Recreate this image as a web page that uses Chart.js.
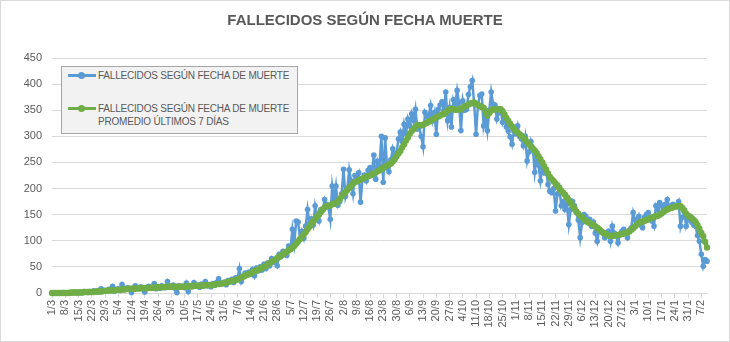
<!DOCTYPE html>
<html>
<head>
<meta charset="utf-8">
<script src="https://cdn.jsdelivr.net/npm/chart.js@4.4.1/dist/chart.umd.min.js"></script>
<style>
    html, body { margin: 0; padding: 0; background: #fff; }
    #wrap { position: relative; width: 730px; height: 342px; }
    #frame { position: absolute; left: 0; top: 0; width: 728px; height: 340px; border: 1px solid #d9d9d9; pointer-events: none; }
    #title { position: absolute; left: 0; top: 10px; width: 730px; text-align: center; line-height: 20px;
             font-family: 'Liberation Sans', Arial, sans-serif; font-size: 15px; font-weight: bold; color: #595959; }
    #legend { position: absolute; left: 61px; top: 66px; width: 235px; height: 66px; background: #f2f2f2; border: 1px solid #a6a6a6;
              font-family: 'Liberation Sans', Arial, sans-serif; font-size: 10px; letter-spacing: -0.2px; color: #595959; }
    .item { position: absolute; left: 6px; display: flex; align-items: flex-start; }
    .swatch { position: relative; width: 28px; height: 13px; margin-right: 2px; }
    .swatch .ln { position: absolute; left: 0; right: 0; top: 5px; height: 3px; }
    .swatch .dot { position: absolute; left: 10px; top: 3px; width: 7px; height: 7px; border-radius: 50%; }
    .txt { line-height: 13px; white-space: nowrap; }
</style>
</head>
<body>
<div id="wrap">
    <canvas id="deathsChart" width="730" height="342"></canvas>
    <div id="title"></div>
    <div id="legend"></div>
    <div id="frame"></div>
</div>
<script>
// ========== DATA ==========
const chartTitle = 'FALLECIDOS SEGÚN FECHA MUERTE';
const dailyLabel = ['FALLECIDOS SEGÚN FECHA DE MUERTE'];
const avgLabel = ['FALLECIDOS SEGÚN FECHA DE MUERTE', 'PROMEDIO ÚLTIMOS 7 DÍAS'];

// one label every 7 days, starting at day 0 (1/3)
const weekLabels = ['1/3','8/3','15/3','22/3','29/3','5/4','12/4','19/4','26/4','3/5','10/5','17/5','24/5','31/5',
    '7/6','14/6','21/6','28/6','5/7','12/7','19/7','26/7','2/8','9/8','16/8','23/8','30/8','6/9','13/9','20/9','27/9',
    '4/10','11/10','18/10','25/10','1/11','8/11','15/11','22/11','29/11','6/12','13/12','20/12','27/12',
    '3/1','10/1','17/1','24/1','31/1','7/2'];

// daily deaths (one row per week)
const dailyDeaths = [
    0,0,0,0,0,0,1,
    0,0,1,0,1,2,1,
    1,2,1,3,2,1,3,
    2,4,3,2,5,8,3,
    5,4,7,6,13,4,7,
    8,5,16,6,9,10,7,
    1,9,14,11,8,12,7,
    2,10,13,9,12,18,8,
    11,9,14,12,10,22,13,
    12,15,9,1,14,11,13,
    10,19,3,14,12,20,13,
    15,11,17,13,22,14,16,
    12,18,15,20,27,17,19,
    21,16,24,22,26,20,29,
    28,47,22,32,38,34,40,
    36,45,33,48,42,50,44,
    55,47,58,52,66,60,59,
    52,74,70,80,78,72,90,
    86,122,95,138,136,104,118,
    105,128,160,133,142,130,167,
    150,138,160,158,179,170,165,
    141,205,180,205,168,175,190,
    237,185,200,236,215,190,225,
    222,230,174,218,226,215,235,
    240,230,264,218,252,243,300,
    212,297,240,232,255,276,262,
    268,295,308,290,323,305,333,
    320,343,330,352,314,318,300,
    280,346,338,340,359,330,345,
    304,352,360,366,350,385,330,
    355,318,370,360,388,365,311,
    368,350,352,380,395,407,362,
    304,360,378,381,320,340,311,
    350,385,362,360,333,345,350,
    327,340,318,310,299,285,310,
    305,320,300,295,282,300,253,
    270,290,276,231,260,245,215,
    240,230,237,208,195,192,200,
    157,190,202,167,175,160,170,
    131,160,175,167,154,140,106,
    135,150,147,138,141,128,136,
    115,99,120,118,115,106,110,
    118,99,128,115,110,96,112,
    118,122,115,106,120,125,154,
    140,135,147,130,125,145,150,
    154,145,138,128,167,160,173,
    168,163,170,179,165,167,170,
    168,167,175,128,145,155,128,
    140,141,135,130,128,110,99,
    74,51,64,61
];

// 7-day average
const avgDeaths = [
    0,0,0,0,0,0,0,
    0,0,0,1,1,1,1,
    1,1,1,2,2,2,2,
    2,2,3,3,3,3,4,
    4,4,5,5,5,5,6,
    6,6,7,7,7,8,8,
    8,8,8,9,9,9,9,
    9,9,10,10,10,10,11,
    11,11,11,11,12,12,12,
    12,12,12,12,12,12,12,
    12,13,13,13,13,14,14,
    14,14,14,15,15,15,15,
    15,16,16,17,17,18,18,
    19,20,21,22,23,24,25,
    26,28,30,31,33,35,36,
    38,40,42,43,45,47,48,
    50,52,55,57,60,62,64,
    67,69,72,74,77,79,82,
    84,87,90,95,99,103,108,
    112,117,122,127,132,137,141,
    146,150,155,160,164,166,167,
    168,170,171,172,176,180,185,
    189,193,197,201,205,209,212,
    214,216,218,219,221,222,224,
    225,227,229,231,233,235,237,
    240,242,244,246,248,252,256,
    262,267,272,279,285,292,298,
    305,310,314,318,322,322,321,
    322,324,326,328,330,332,334,
    336,338,340,342,343,346,349,
    352,353,352,351,351,352,352,
    355,357,359,361,363,364,365,
    362,360,358,356,355,348,340,
    345,349,352,352,352,352,352,
    348,342,335,330,324,319,314,
    310,307,304,301,298,294,289,
    285,281,277,273,268,262,256,
    250,243,236,229,222,218,214,
    210,205,201,196,192,188,183,
    178,173,167,162,156,152,148,
    145,141,138,136,134,132,130,
    128,125,122,119,116,114,112,
    110,109,109,110,110,111,112,
    113,114,115,116,118,121,124,
    128,131,134,136,137,138,140,
    141,143,144,146,147,148,150,
    152,155,158,160,162,163,164,
    165,166,166,166,163,158,152,
    148,146,143,140,136,130,123,
    115,109,98,87
];

const BLUE = '#5b9bd5';
const GREEN = '#70ad47';
const TEXT = '#595959';
const GRID = '#d9d9d9';
const FONT = "'Liberation Sans', Arial, sans-serif";

document.getElementById('title').textContent = chartTitle;

// ========== HTML LEGEND ==========
const htmlLegend = {
    id: 'htmlLegend',
    afterUpdate(chart) {
        const box = document.getElementById('legend');
        const tops = [2, 35];
        box.innerHTML = chart.data.datasets.map((ds, i) => `
            <div class="item" style="top:${tops[i]}px">
                <div class="swatch">
                    <div class="ln" style="background:${ds.borderColor}"></div>
                    <div class="dot" style="background:${ds.borderColor}"></div>
                </div>
                <div class="txt">${ds.label.join('<br>')}</div>
            </div>
        `).join('');
    }
};

// ========== CHART ==========
const ctx = document.getElementById('deathsChart').getContext('2d');
new Chart(ctx, {
    type: 'line',
    data: {
        labels: dailyDeaths.map((_, i) => i),
        datasets: [
            {
                label: dailyLabel,
                data: dailyDeaths,
                borderColor: BLUE,
                backgroundColor: BLUE,
                borderWidth: 2.5,
                pointRadius: 2.8,
                pointBorderWidth: 0,
                pointBackgroundColor: BLUE,
                tension: 0,
                clip: 8,
                order: 2
            },
            {
                label: avgLabel,
                data: avgDeaths,
                borderColor: GREEN,
                backgroundColor: GREEN,
                borderWidth: 4,
                pointRadius: 3.2,
                pointBorderWidth: 0,
                pointBackgroundColor: GREEN,
                tension: 0,
                clip: 8,
                order: 1
            }
        ]
    },
    options: {
        responsive: false,
        animation: false,
        events: [],
        layout: { padding: { left: 0, right: 23, top: 58, bottom: 0 } },
        plugins: {
            legend: { display: false },
            tooltip: { enabled: false },
            title: { display: false }
        },
        scales: {
            x: {
                offset: false,
                border: { display: true, color: GRID, width: 1 },
                grid: {
                    drawOnChartArea: false,
                    drawTicks: true,
                    tickLength: 5,
                    color: (c) => (c.index % 7 === 0 ? GRID : 'rgba(0,0,0,0)')
                },
                ticks: {
                    autoSkip: false,
                    minRotation: 90,
                    maxRotation: 90,
                    padding: 2,
                    color: TEXT,
                    font: { family: FONT, size: 11 },
                    callback: (v, i) => (i % 7 === 0 ? weekLabels[i / 7] || '' : '')
                },
                afterFit: (s) => { s.height = 49; }
            },
            y: {
                min: 0,
                max: 450,
                border: { display: false },
                grid: { color: GRID, lineWidth: 1, drawTicks: false },
                ticks: {
                    stepSize: 50,
                    padding: 10,
                    color: TEXT,
                    font: { family: FONT, size: 11 }
                },
                afterFit: (s) => { s.width = 52; }
            }
        }
    },
    plugins: [htmlLegend]
});
</script>
</body>
</html>
